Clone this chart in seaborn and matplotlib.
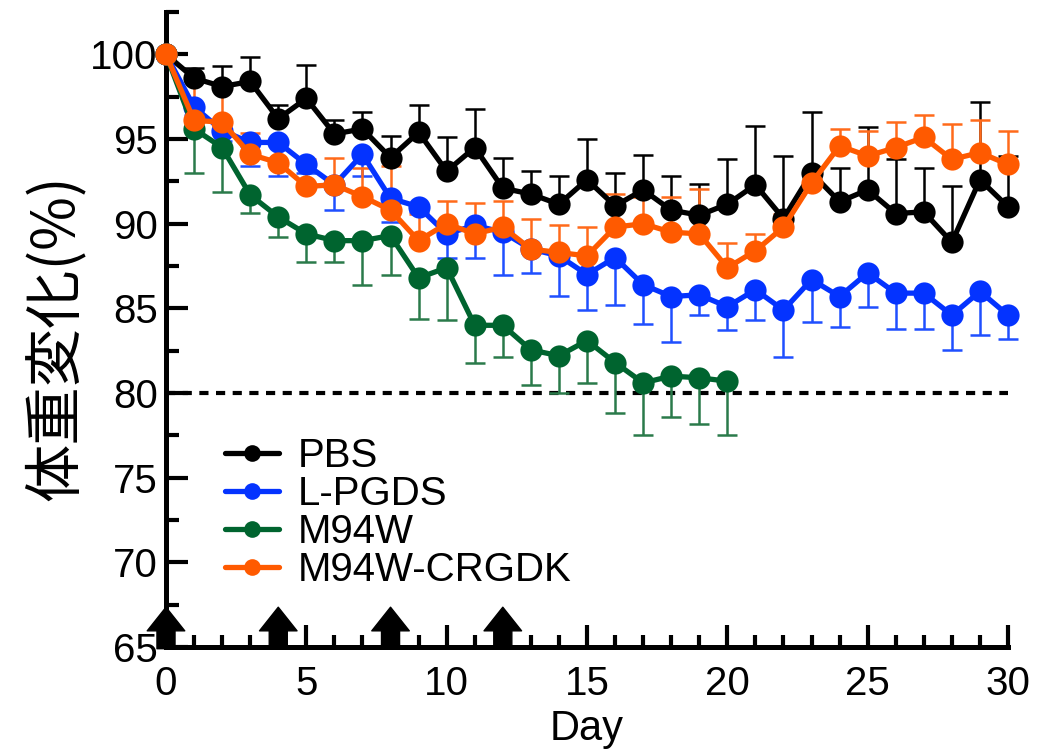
import numpy as np
import pandas as pd
import matplotlib
matplotlib.use("Agg")
import matplotlib.pyplot as plt
from matplotlib.lines import Line2D
from matplotlib.ticker import MultipleLocator
import seaborn as sns

# ---------------- data ----------------
groups = ["PBS", "L-PGDS", "M94W", "M94W-CRGDK"]
colors = ["#000000", "#0433ff", "#00642f", "#ff5a00"]
err_colors = ["#000000", "#1f4fff", "#2a7a4a", "#ff6a1a"]
err_side = ["upper", "lower", "lower", "upper"]

days_pbs = list(range(0, 31))
pbs_mean = [100, 98.6, 98.1, 98.4, 96.2, 97.4, 95.3, 95.6, 93.9, 95.4, 93.1,
            94.5, 92.1, 91.75, 91.15, 92.6, 91.05, 92.0, 90.8, 90.5, 91.15,
            92.3, 90.3, 93.0, 91.3, 92.0, 90.6, 90.7, 88.9, 92.6, 91.0]
pbs_err = [0, 0.6, 1.2, 1.45, 0.8, 2.0, 0.8, 1.0, 1.3, 1.6, 2.0,
           2.3, 1.8, 1.35, 1.65, 2.4, 1.95, 2.05, 2.0, 1.85, 2.65,
           3.5, 3.7, 3.6, 2.0, 3.7, 3.2, 2.6, 3.3, 4.6, 3.0]

days_lpgds = list(range(0, 31))
lpgds_mean = [100, 96.9, 95.5, 94.8, 94.8, 93.5, 92.3, 94.1, 91.5, 91.0, 89.4,
              89.9, 89.5, 88.5, 88.1, 87.0, 88.0, 86.4, 85.7, 85.8, 85.1,
              86.1, 84.9, 86.7, 85.7, 87.1, 85.9, 85.9, 84.6, 86.0, 84.6]
lpgds_err = [0, 0.5, 0.6, 1.4, 2.0, 0.5, 1.5, 1.3, 1.4, 0.3, 1.4,
             1.9, 2.5, 1.4, 2.35, 2.1, 2.8, 2.3, 2.7, 1.2, 1.4,
             1.8, 2.8, 2.5, 1.8, 2.0, 2.1, 2.1, 2.05, 2.6, 1.4]

days_m94w = list(range(0, 21))
m94w_mean = [100, 95.6, 94.5, 91.7, 90.4, 89.4, 89.0, 89.0, 89.3, 86.8, 87.4,
             84.0, 84.0, 82.55, 82.2, 83.1, 81.8, 80.6, 81.0, 80.9, 80.7]
m94w_err = [0, 2.6, 2.6, 1.05, 1.2, 1.65, 1.25, 2.6, 2.3, 2.4, 3.1,
            2.25, 1.9, 2.1, 2.2, 2.5, 3.0, 3.1, 2.4, 2.7, 3.2]

days_crgdk = list(range(0, 31))
crgdk_mean = [100, 96.1, 96.0, 94.1, 93.6, 92.2, 92.3, 91.6, 90.8, 89.0, 90.0,
              89.4, 89.8, 88.5, 88.3, 88.1, 89.8, 90.0, 89.5, 89.4, 87.4,
              88.4, 89.8, 92.4, 94.6, 94.0, 94.5, 95.1, 93.8, 94.2, 93.5]
crgdk_err = [0, 2.5, 2.2, 1.25, 1.1, 1.6, 1.6, 1.7, 2.6, 1.6, 1.35,
             1.85, 1.55, 1.8, 1.6, 1.7, 1.95, 1.6, 2.1, 2.65, 1.45,
             1.0, 0.8, 0.5, 1.0, 1.5, 1.5, 1.3, 2.1, 1.9, 2.0]

threshold = 80
dose_days = [0, 4, 8, 12]
x_ticks = [0, 5, 10, 15, 20, 25, 30]
y_ticks = [65, 70, 75, 80, 85, 90, 95, 100]

series = [(days_pbs, pbs_mean, pbs_err), (days_lpgds, lpgds_mean, lpgds_err),
          (days_m94w, m94w_mean, m94w_err), (days_crgdk, crgdk_mean, crgdk_err)]

rows = []
for g, (d, m, e) in zip(groups, series):
    for di, mi, ei in zip(d, m, e):
        rows.append({"Day": di, "value": mi, "err": ei, "group": g})
df = pd.DataFrame(rows)

# ---------------- figure ----------------
sns.set_theme(style="white")
plt.rcParams["font.family"] = ["Liberation Sans", "Noto Sans CJK JP", "DejaVu Sans"]
plt.rcParams["text.color"] = "black"
plt.rcParams["axes.labelcolor"] = "black"

fig = plt.figure(figsize=(10.42, 7.54), dpi=100)
ax = fig.add_axes([0.1593, 0.1419, 0.9674 - 0.1593, 0.984 - 0.1419])

# threshold line
ax.axhline(threshold, color="black", lw=3.0, dashes=(2.2, 1.8), zorder=1)

# error bars (one-sided)
for i, g in enumerate(groups):
    sub = df[df.group == g]
    e = sub["err"].to_numpy()
    z = np.zeros_like(e)
    yerr = [z, e] if err_side[i] == "upper" else [e, z]
    ax.errorbar(sub["Day"], sub["value"], yerr=yerr, fmt="none",
                ecolor=err_colors[i], elinewidth=1.8, capsize=7.5,
                capthick=1.8, zorder=2 + i, clip_on=False)

# lines with markers
sns.lineplot(data=df, x="Day", y="value", hue="group", hue_order=groups,
             palette=colors, marker="o", markersize=16, markeredgewidth=0,
             linewidth=3.8, ax=ax, legend=False, zorder=6)
for ln in ax.lines:
    ln.set_clip_on(False)

# dosing arrows
for d in dose_days:
    ax.annotate("", xy=(d, 67.35), xytext=(d, 64.9),
                arrowprops=dict(arrowstyle="simple,head_width=1.35,head_length=0.85,tail_width=0.65",
                                color="black", mutation_scale=20, shrinkA=0, shrinkB=0),
                annotation_clip=False, zorder=10)

ax.set_xlim(0, 30)
ax.set_ylim(65, 102.5)
ax.set_xticks(x_ticks)
ax.set_yticks(y_ticks)
ax.xaxis.set_minor_locator(MultipleLocator(1))
ax.yaxis.set_minor_locator(MultipleLocator(2.5))

for s in ["top", "right"]:
    ax.spines[s].set_visible(False)
for s in ["left", "bottom"]:
    ax.spines[s].set_linewidth(3.6)
    ax.spines[s].set_color("black")

ax.tick_params(axis="both", which="both", bottom=True, left=True, top=False, right=False)
ax.tick_params(axis="both", which="major", direction="in", length=16, width=3.0,
               labelsize=29, color="black", labelcolor="black")
ax.tick_params(axis="both", which="minor", direction="in", length=9, width=3.0,
               color="black")
ax.tick_params(axis="x", which="major", pad=13)
ax.tick_params(axis="y", which="major", pad=6)

ax.set_xlabel("Day", fontsize=30, labelpad=4, color="black")
ax.set_ylabel("体重変化(%)", fontsize=42, color="black",
              fontfamily=["Noto Sans CJK JP", "DejaVu Sans"])
ax.yaxis.set_label_coords(-0.094, 0.487)

handles = [Line2D([0], [0], color=c, lw=3.8, marker="o", markersize=12,
                  markeredgewidth=0) for c in colors]
leg = ax.legend(handles, groups, loc="upper left", bbox_to_anchor=(0.07, 0.33),
                frameon=False, fontsize=29, handlelength=1.35, handletextpad=0.45,
                labelspacing=0.0, borderpad=0, borderaxespad=0)
for t in leg.get_texts():
    t.set_color("black")

fig.savefig("out.png", dpi=100)
